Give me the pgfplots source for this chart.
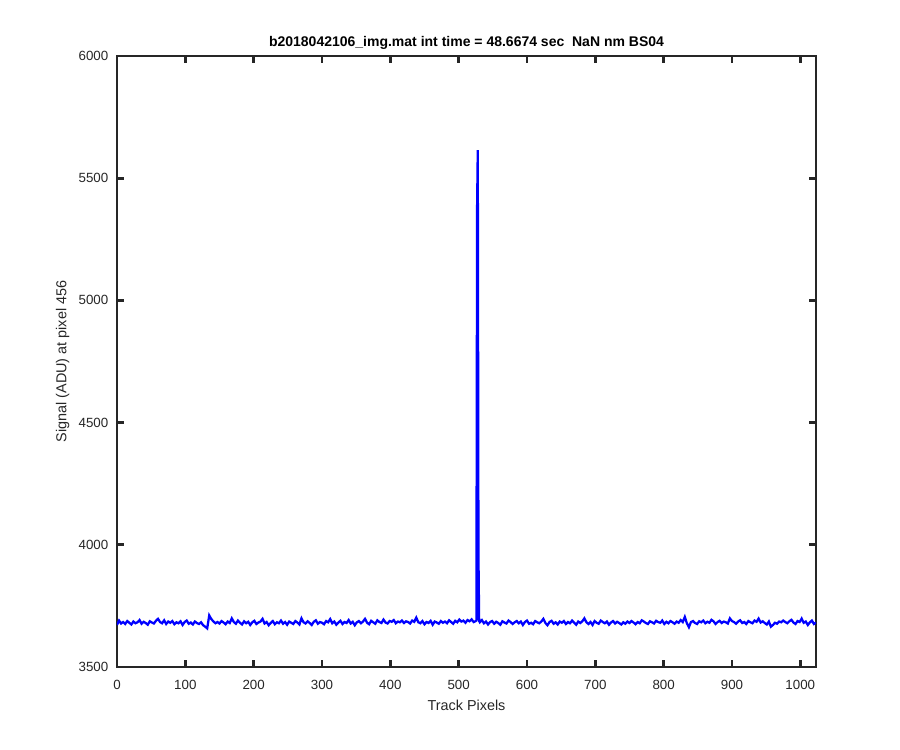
\documentclass[border=0pt]{standalone}
\usepackage{pgfplots}
\pgfplotsset{compat=1.18}
\usepackage{fontspec}
\setmainfont{Liberation Sans}
\definecolor{axgray}{RGB}{38,38,38}
\begin{document}
\begin{tikzpicture}
\begin{axis}[
 width=524.25pt, height=458.25pt, scale only axis,
 xmin=0, xmax=1023, ymin=3500, ymax=6000,
 xtick={0,100,...,1000}, ytick={3500,4000,...,6000},
 axis line style={axgray, line width=2.1pt},
 major tick style={axgray, line width=2.1pt},
 major tick length=5.5pt,
 tick align=inside,
 ticklabel style={font=\fontsize{10}{12}\selectfont, text=axgray},
 xticklabel shift=6pt,
 yticklabel shift=3pt,
 /pgf/number format/1000 sep={},
 /pgf/number format/assume math mode=true,
 title={\bfseries b2018042106\_img.mat int time = 48.6674 sec \ NaN nm BS04},
 title style={font=\fontsize{10.5}{12.5}\selectfont, text=black, yshift=-5pt},
 xlabel={Track Pixels}, ylabel={Signal (ADU) at pixel 456},
 label style={font=\fontsize{10.8}{13}\selectfont, text=axgray},
 xlabel style={yshift=-1pt},
]
\addplot[blue, line width=1.7pt] table {
x y
0 3672
3 3690
6 3678
9 3684
12 3676
15 3688
18 3681
21 3674
24 3686
27 3679
30 3683
33 3692
36 3677
39 3685
42 3680
45 3673
48 3687
51 3682
54 3678
57 3689
60 3697
63 3684
66 3679
69 3691
72 3676
75 3686
78 3681
81 3688
84 3675
87 3683
90 3679
93 3687
96 3672
99 3684
102 3690
105 3677
108 3682
111 3674
114 3686
117 3680
120 3676
123 3683
126 3671
129 3665
132 3658
135 3711
138 3696
141 3687
144 3679
147 3684
150 3678
153 3688
156 3682
159 3675
162 3686
165 3680
168 3699
171 3684
174 3677
177 3690
180 3681
183 3674
186 3687
189 3679
192 3685
195 3672
198 3683
201 3689
204 3676
207 3682
210 3686
213 3697
216 3678
219 3684
222 3671
225 3680
228 3688
231 3675
234 3683
237 3679
240 3690
243 3677
246 3684
249 3673
252 3686
255 3681
258 3676
261 3688
264 3682
267 3674
270 3699
273 3683
276 3678
279 3687
282 3680
285 3672
288 3685
291 3691
294 3677
297 3684
300 3681
303 3675
306 3688
309 3683
312 3696
315 3679
318 3686
321 3673
324 3682
327 3689
330 3676
333 3684
336 3680
339 3692
342 3678
345 3685
348 3671
351 3683
354 3688
357 3679
360 3686
363 3697
366 3681
369 3675
372 3689
375 3683
378 3677
381 3691
384 3684
387 3680
390 3694
393 3682
396 3678
399 3688
402 3685
405 3692
408 3679
411 3686
414 3683
417 3690
420 3680
423 3687
426 3684
429 3678
432 3690
435 3685
438 3702
441 3683
444 3679
447 3688
450 3675
453 3684
456 3680
459 3689
462 3673
465 3686
468 3682
471 3677
474 3688
477 3681
480 3686
483 3679
486 3691
489 3684
492 3677
495 3689
498 3683
501 3694
504 3686
507 3690
510 3681
513 3692
516 3687
519 3695
522 3684
525 3688
526 3690
527 5378
528 5615
529 3955
530 3688
531 3683
534 3692
537 3679
540 3686
543 3674
546 3684
549 3688
552 3677
555 3685
558 3680
561 3673
564 3687
567 3682
570 3678
573 3690
576 3684
579 3676
582 3683
585 3688
588 3679
591 3686
594 3672
597 3684
600 3690
603 3677
606 3681
609 3675
612 3688
615 3683
618 3679
621 3686
624 3697
627 3680
630 3671
633 3684
636 3689
639 3677
642 3683
645 3674
648 3686
651 3681
654 3688
657 3676
660 3684
663 3679
666 3690
669 3682
672 3673
675 3686
678 3680
681 3687
684 3699
687 3683
690 3676
693 3684
696 3672
699 3688
702 3681
705 3677
708 3690
711 3684
714 3679
717 3686
720 3673
723 3682
726 3688
729 3678
732 3685
735 3680
738 3674
741 3683
744 3677
747 3686
750 3680
753 3688
756 3682
759 3675
762 3684
765 3679
768 3691
771 3686
774 3680
777 3676
780 3687
783 3683
786 3678
789 3689
792 3684
795 3681
798 3690
801 3676
804 3685
807 3679
810 3688
813 3683
816 3677
819 3686
822 3681
825 3692
828 3684
831 3705
834 3679
837 3663
840 3684
843 3688
846 3680
849 3676
852 3687
855 3683
858 3690
861 3679
864 3685
867 3681
870 3693
873 3687
876 3676
879 3684
882 3689
885 3680
888 3686
891 3683
894 3678
897 3699
900 3688
903 3684
906 3677
909 3686
912 3691
915 3680
918 3684
921 3676
924 3688
927 3683
930 3679
933 3690
936 3685
939 3698
942 3682
945 3687
948 3680
951 3674
954 3686
957 3665
960 3672
963 3681
966 3677
969 3686
972 3683
975 3690
978 3684
981 3679
984 3687
987 3693
990 3682
993 3676
996 3688
999 3684
1002 3698
1005 3681
1008 3686
1011 3672
1014 3683
1017 3690
1020 3676
1023 3682
};
\coordinate (sw) at (rel axis cs:0,0);
\coordinate (ne) at (rel axis cs:1,1);
\end{axis}
\pgfresetboundingbox
\path ([xshift=-87.75pt,yshift=-62.25pt]sw) rectangle ([xshift=63pt,yshift=42pt]ne);
\end{tikzpicture}
\end{document}
